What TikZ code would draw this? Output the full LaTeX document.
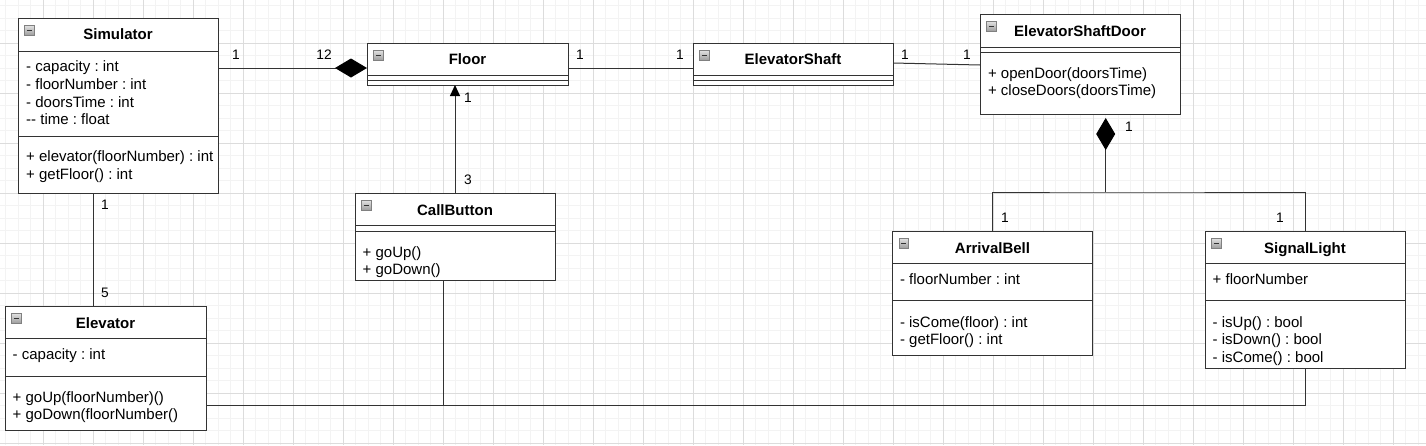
\documentclass[tikz,border=0pt]{standalone}
\usepackage{fontspec}
\setmainfont{Liberation Sans}
\usetikzlibrary{arrows.meta,calc}
\definecolor{border}{HTML}{333333}
\definecolor{minorgrid}{HTML}{F3F3F3}
\definecolor{majorgrid}{HTML}{DCDCDC}
\tikzset{
  box/.style={draw=border, fill=white, line width=1pt, inner sep=0pt, outer sep=0pt, anchor=north west},
  cline/.style={draw=border, line width=1pt},
  edge/.style={draw=border, line width=1pt},
  ttl/.style={anchor=base, inner sep=0pt, font=\fontsize{15}{18}\selectfont\bfseries},
  txt/.style={anchor=base west, inner sep=0pt, font=\fontsize{15}{18}\selectfont},
  mult/.style={anchor=center, inner sep=0pt, font=\fontsize{13.75}{16}\selectfont},
  comptip/.style={-{Diamond[length=32pt,width=19pt,color=black,fill=black]}},
  minusicon/.pic={
    \shade[top color=white!88!black, bottom color=white!62!black, draw=white!50!black, line width=0.6pt] (0,0) rectangle (9.5,9.5);
    \draw[line width=1.2pt, black!80] (2.3,4.75) -- (7.2,4.75);
  }
}
\newcommand\compline[2]{\draw[cline] ([yshift=-#2pt]#1.north west) -- ([yshift=-#2pt]#1.north east);}
\newcommand\boxicon[1]{\pic at ([xshift=6.5pt,yshift=-7.5pt]#1.north west) {minusicon};}
\frenchspacing
\begin{document}
\frenchspacing
\begin{tikzpicture}[x=1pt,y=-1pt]
\useasboundingbox (0,0) rectangle (1426,445);
\fill[white] (0,0) rectangle (1426,445);
% grid
\foreach \i in {0,...,113} { \draw[minorgrid, line width=0.8pt] (5.5+12.5*\i,0) -- (5.5+12.5*\i,445); }
\foreach \i in {0,...,35} { \draw[minorgrid, line width=0.8pt] (0,5.5+12.5*\i) -- (1426,5.5+12.5*\i); }
\foreach \i in {0,...,27} { \draw[majorgrid, line width=0.8pt] (43+50*\i,0) -- (43+50*\i,445); }
\foreach \i in {0,...,8} { \draw[majorgrid, line width=0.8pt] (0,43+50*\i) -- (1426,43+50*\i); }

% boxes
\node[box, minimum width=200pt, minimum height=175pt] (sim) at (18,18) {};
\node[box, minimum width=201pt, minimum height=42pt] (floor) at (367,43) {};
\node[box, minimum width=200pt, minimum height=42pt] (shaft) at (693,43) {};
\node[box, minimum width=200pt, minimum height=100pt] (door) at (980,14) {};
\node[box, minimum width=200pt, minimum height=87pt] (cb) at (355,193) {};
\node[box, minimum width=201pt, minimum height=124pt] (elev) at (5,306) {};
\node[box, minimum width=200pt, minimum height=124pt] (bell) at (892.5,231) {};
\node[box, minimum width=200pt, minimum height=137pt] (sig) at (1205,231) {};

\compline{sim}{33}\compline{sim}{118}
\compline{floor}{32}\compline{floor}{37}
\compline{shaft}{32}\compline{shaft}{37}
\compline{door}{33}\compline{door}{38}
\compline{cb}{32}\compline{cb}{38}
\compline{elev}{32}\compline{elev}{70}
\compline{bell}{32}\compline{bell}{69}
\compline{sig}{32}\compline{sig}{69}

\boxicon{sim}\boxicon{floor}\boxicon{shaft}\boxicon{door}
\boxicon{cb}\boxicon{elev}\boxicon{bell}\boxicon{sig}

% titles
\node[ttl] (simt) at (118,39.6) {Simulator};
\node[ttl] (floort) at (467.5,64.6) {Floor};
\node[ttl] (shaftt) at (793,64.6) {ElevatorShaft};
\node[ttl] (doort) at (1080,36) {ElevatorShaftDoor};
\node[ttl] (cbt) at (455,215.4) {CallButton};
\node[ttl] (elevt) at (105.5,328) {Elevator};
\node[ttl] (bellt) at (992.5,253) {ArrivalBell};
\node[ttl] (sigt) at (1305,253) {SignalLight};

% members
\node[txt] (s1) at (26,71.4) {- capacity : int};
\node[txt] (s2) at (26,89.2) {- floorNumber : int};
\node[txt] (s3) at (26,107) {- doorsTime : int};
\node[txt] (s4) at (26,124.6) {-{}- time : float};
\node[txt] (s5) at (26,161.9) {+ elevator(floorNumber) : int};
\node[txt] (s6) at (26,179.6) {+ getFloor() : int};

\node[txt] (d1) at (987.8,78.6) {+ openDoor(doorsTime)};
\node[txt] (d2) at (987.8,95.6) {+ closeDoors(doorsTime)};

\node[txt] (c1) at (362.5,257.3) {+ goUp()};
\node[txt] (c2) at (362.5,274.6) {+ goDown()};

\node[txt] (e1) at (12.5,359.6) {- capacity : int};
\node[txt] (e2) at (12.5,402.9) {+ goUp(floorNumber)()};
\node[txt] (e3) at (12.5,419.6) {+ goDown(floorNumber()};

\node[txt] (b1) at (899.8,284.6) {- floorNumber : int};
\node[txt] (b2) at (899.8,327.3) {- isCome(floor) : int};
\node[txt] (b3) at (899.8,344.6) {- getFloor() : int};

\node[txt] (g1) at (1212.5,284.6) {+ floorNumber};
\node[txt] (g2) at (1212.5,327.5) {- isUp() : bool};
\node[txt] (g3) at (1212.5,344.8) {- isDown() : bool};
\node[txt] (g4) at (1212.5,362.3) {- isCome() : bool};

% connectors
\draw[edge, comptip] ([yshift=-50pt]sim.north east) -- ([yshift=-25pt]floor.north west);
\draw[edge] ([yshift=-25pt]floor.north east) -- ([yshift=-25pt]shaft.north west);
\draw[edge] ([yshift=-20pt]shaft.north east) -- ([yshift=-51pt]door.north west);
\draw[edge, -{Triangle[length=11pt,width=10pt,color=black,fill=black]}] (cb.north) -- (cb.north |- floor.south);
\draw[edge] ([xshift=-25pt]sim.south) -- ([xshift=-25pt]sim.south |- elev.north);

\coordinate (dtip) at ([xshift=25.7pt,yshift=-4pt]door.south);
\coordinate (djoin) at ([yshift=-74pt]dtip);
\draw[edge] (bell.north) |- (djoin) -| (sig.north);
\draw[edge, comptip] (djoin) -- (dtip);

\coordinate (bot) at ([yshift=-99pt]elev.north east);
\draw[edge] (bot) -| (sig.south);
\draw[edge] ([xshift=-12pt]cb.south) -- ([xshift=-12pt]cb.south |- bot);

% multiplicities
\node[mult] (m1) at (236,54.5) {1};
\node[mult] (m2) at (324,54.5) {12};
\node[mult] (m3) at (580,55) {1};
\node[mult] (m4) at (680,55) {1};
\node[mult] (m5) at (905,55) {1};
\node[mult] (m6) at (967,55) {1};
\node[mult] (m7) at (1129,127) {1};
\node[mult] (m8) at (1005,218) {1};
\node[mult] (m9) at (1280,218) {1};
\node[mult] (m10) at (468,98) {1};
\node[mult] (m11) at (468,180) {3};
\node[mult] (m12) at (105,205) {1};
\node[mult] (m13) at (105,293) {5};
\end{tikzpicture}
\end{document}
